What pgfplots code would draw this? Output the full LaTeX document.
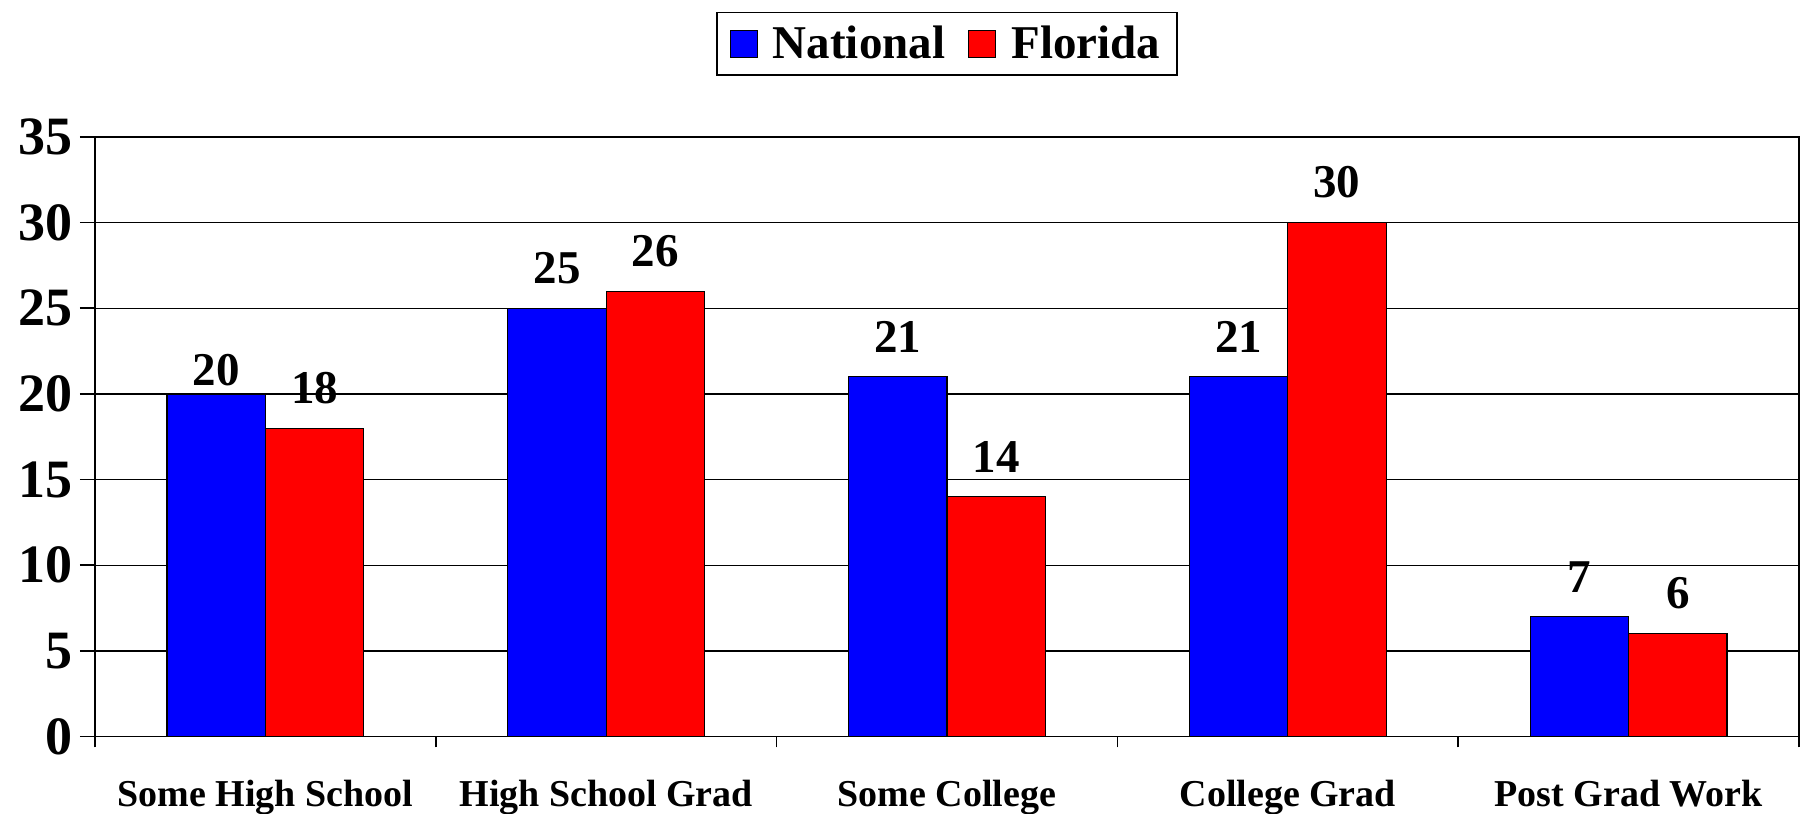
\documentclass[border=0pt]{standalone}
\usepackage{pgfplots}
\usepackage{pgfplotstable}
\pgfplotsset{compat=1.18}
\usepackage{fontspec}
\setmainfont{Liberation Serif}
\definecolor{natblue}{RGB}{0,0,255}
\definecolor{flred}{RGB}{255,0,0}
\newcommand\lblfont{\fontsize{23.5}{28}\selectfont\bfseries}
\newcommand\ytfont{\fontsize{27}{32}\selectfont\bfseries}
\newcommand\xtfont{\fontsize{19}{23}\selectfont\bfseries}
\pgfplotstableread{
x y off
0 20 3.5
1 25 12
2 21 12
3 21 12
4 7 12
}\natdata
\pgfplotstableread{
x y off
0 18 12
1 26 12
2 14 12
3 30 12
4 6 12
}\fladata
\begin{document}
\begin{tikzpicture}
\useasboundingbox (-47.5pt,-38.75pt) rectangle (852.5pt,368.25pt);
\begin{axis}[
  at={(0,0)}, anchor=south west,
  scale only axis, width=852pt, height=299.75pt,
  ybar=0pt, bar width=0.2885,
  xmin=-0.5, xmax=4.5, ymin=0, ymax=35,
  ytick={0,5,...,35},
  xtick={0,1,2,3,4},
  xticklabels={Some High School, High School Grad, Some College, College Grad, Post Grad Work},
  minor xtick={-0.5,0.5,1.5,2.5,3.5,4.5},
  tick pos=left, tick align=outside,
  major tick length=7.5pt, minor tick length=5.5pt,
  every major x tick/.append style={draw=none},
  every tick/.append style={black, line width=0.8pt},
  ymajorgrids,
  grid style={black, line width=0.7pt},
  axis line style={black, line width=0.9pt},
  /pgf/number format/assume math mode=true,
  yticklabel style={font=\ytfont},
  xticklabel style={font=\xtfont, anchor=base, inner sep=0pt, yshift=-27.5pt},
  nodes near coords,
  visualization depends on={\thisrow{off}\as\myoff},
  every node near coord/.append style={font=\lblfont, inner sep=0pt, yshift=\myoff pt, black},
  legend columns=2,
  legend style={at={(0.5,1)}, anchor=south, yshift=30.5pt, draw=black, line width=0.8pt,
    font=\lblfont, inner xsep=6.5pt, inner ysep=4.75pt,
    /tikz/every even column/.append style={column sep=9.5pt}},
  legend image code/.code={\draw[#1, draw=black, line width=0.6pt] (0pt,-6.75pt) rectangle (13.5pt,6.75pt); \path (19pt,0pt);},
]
\addplot[fill=natblue, draw=black, line width=0.6pt] table[x=x,y=y] {\natdata};
\addplot[fill=flred, draw=black, line width=0.6pt] table[x=x,y=y] {\fladata};
\legend{National, Florida}
\end{axis}
\end{tikzpicture}
\end{document}
